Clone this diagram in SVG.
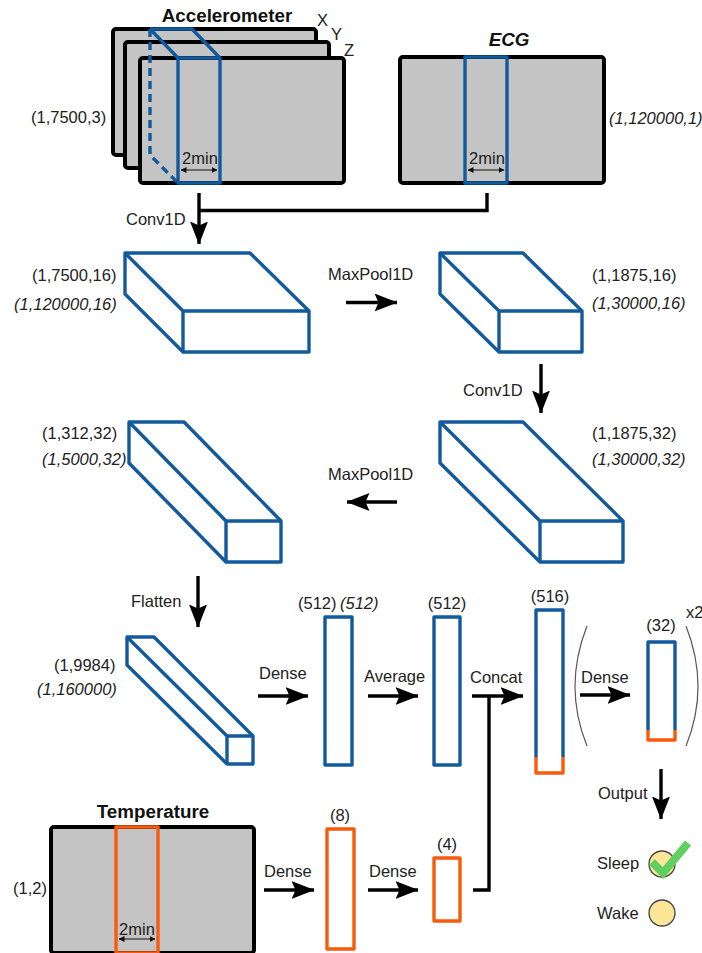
<svg xmlns="http://www.w3.org/2000/svg" width="702" height="953" viewBox="0 0 702 953">
<defs>
<marker id="ah" viewBox="0 0 23 18" refX="22.5" refY="9" markerWidth="23" markerHeight="18" markerUnits="userSpaceOnUse" orient="auto"><path d="M0,0 L23,9 L0,18 L4,9 Z" fill="#000"/></marker>
<marker id="as" viewBox="0 0 6 6" refX="5.5" refY="3" markerWidth="6" markerHeight="6" markerUnits="userSpaceOnUse" orient="auto-start-reverse"><path d="M0,0 L6,3 L0,6 Z" fill="#111"/></marker>
</defs>
<style>
text{font-family:"Liberation Sans",Arial,sans-serif;font-size:16.5px;fill:#222}
.i{font-style:italic}
.b{font-weight:bold;font-size:18.8px;fill:#111}
.m{text-anchor:middle}
.g{fill:#c4c4c4;stroke:#000;stroke-width:4;stroke-linejoin:round}
.bl{fill:none;stroke:#125a9c;stroke-width:3.4;stroke-linejoin:round}
.wb{fill:#fff;stroke:#125a9c;stroke-width:3.4;stroke-linejoin:round}
.ol{fill:none;stroke:#f85a0e;stroke-width:3.4;stroke-linejoin:round}
.or{fill:#fff;stroke:#f85a0e;stroke-width:3.4;stroke-linejoin:round}
.c{fill:none;stroke:#000;stroke-width:3.4}
.d{fill:none;stroke:#111;stroke-width:1;marker-start:url(#as);marker-end:url(#as)}
.p{fill:none;stroke:#555;stroke-width:1.2}
.y{fill:#fbe596;stroke:#444;stroke-width:1.3}
</style>
<g id="accelerometer">
<rect class="g" x="113" y="29" width="203" height="126" rx="3"/>
<rect class="g" x="125" y="42" width="204" height="126" rx="3"/>
<rect class="g" x="140" y="58" width="204" height="125" rx="3"/>
<path class="bl" d="M150,29H192L220,58M150,29L178,58"/>
<path class="bl" d="M150,29V155L178,183" stroke-dasharray="8 5"/>
<rect class="bl" x="178" y="58" width="42" height="125"/>
<path class="d" d="M181,170H217"/>
<text class="m" x="200" y="164">2min</text>
<text class="b m" x="227" y="22">Accelerometer</text>
<text x="317" y="26">X</text><text x="331" y="40">Y</text><text x="344" y="56">Z</text>
<text x="31" y="123">(1,7500,3)</text>
</g>
<g id="ecg">
<rect class="g" x="400" y="57" width="204" height="126" rx="3"/>
<rect class="bl" x="465" y="57" width="42" height="126"/>
<path class="d" d="M468,170H504"/>
<text class="m" x="487" y="164">2min</text>
<text class="b i m" x="509" y="46">ECG</text>
<text class="i" x="609" y="124">(1,120000,1)</text>
</g>
<g id="conv1">
<path class="wb" d="M125,253H250L309,311V352H183L125,294Z"/>
<path class="bl" d="M125,253L183,311H309M183,311V352"/>
<text x="32" y="281">(1,7500,16)</text>
<text class="i" x="14" y="310">(1,120000,16)</text>
</g>
<g id="pool1">
<path class="wb" d="M440,253H523L582,311V352H499L440,294Z"/>
<path class="bl" d="M440,253L499,311H582M499,311V352"/>
<text x="592" y="281">(1,1875,16)</text>
<text class="i" x="592" y="309">(1,30000,16)</text>
</g>
<g id="conv2">
<path class="wb" d="M440,422H523L623,521V562H540L440,463Z"/>
<path class="bl" d="M440,422L540,521H623M540,521V562"/>
<text x="592" y="439">(1,1875,32)</text>
<text class="i" x="592" y="465">(1,30000,32)</text>
</g>
<g id="pool2">
<path class="wb" d="M129,422H184L281,521V562H226L129,463Z"/>
<path class="bl" d="M129,422L226,521H281M226,521V562"/>
<text x="42" y="439">(1,312,32)</text>
<text class="i" x="42" y="465">(1,5000,32)</text>
</g>
<g id="flatten">
<path class="wb" d="M127,637H154L253,736V764H227L127,665Z"/>
<path class="bl" d="M127,637L227,736H253M227,736V764"/>
<text x="54" y="671">(1,9984)</text>
<text class="i" x="37" y="695">(1,160000)</text>
</g>
<g id="dense1"><rect class="wb" x="325" y="617" width="27" height="148"/>
<text x="298" y="609">(512)</text><text class="i" x="340" y="609">(512)</text></g>
<g id="average"><rect class="wb" x="434" y="617" width="26" height="148"/>
<text class="m" x="447" y="609">(512)</text></g>
<g id="concat">
<path class="ol" d="M536,757V773H563V757"/>
<path class="bl" d="M536,757V610H563V757"/>
<text class="m" x="550" y="602">(516)</text></g>
<g id="dense2">
<path class="ol" d="M648,730V740H675V730"/>
<path class="bl" d="M648,730V642H675V730"/>
<text class="m" x="661" y="631">(32)</text>
<path class="p" d="M587,626Q563,687 587,746"/>
<path class="p" d="M686,626Q710,687 686,746"/>
<text x="686" y="618">x2</text></g>
<g id="temperature">
<rect class="g" x="51" y="827" width="203" height="126" rx="3"/>
<rect class="ol" x="116" y="827" width="42" height="126"/>
<path class="d" d="M119,939H155"/>
<text class="m" x="137" y="935">2min</text>
<text class="b m" x="153" y="818">Temperature</text>
<text x="13" y="894">(1,2)</text>
</g>
<g id="dense3"><rect class="or" x="327" y="829" width="27" height="120"/><text class="m" x="340" y="821">(8)</text></g>
<g id="dense4"><rect class="or" x="434" y="858" width="26" height="63"/><text class="m" x="447" y="850">(4)</text></g>
<g id="sleep">
<circle class="y" cx="662" cy="864" r="13"/>
<path d="M652,862L663,873L688,843" fill="none" stroke="#5fcf5f" stroke-width="8"/>
<text x="597" y="869">Sleep</text></g>
<g id="wake">
<circle class="y" cx="662" cy="913" r="13"/>
<text x="597" y="919">Wake</text></g>
<g id="connectors">
<path class="c" d="M487,193V210.500H199"/>
<path class="c" d="M199,193V244" marker-end="url(#ah)"/>
<path class="c" d="M346,302.500H397" marker-end="url(#ah)"/>
<path class="c" d="M541,364V413" marker-end="url(#ah)"/>
<path class="c" d="M397,502H347" marker-end="url(#ah)"/>
<path class="c" d="M198,576V627" marker-end="url(#ah)"/>
<path class="c" d="M258,696H308" marker-end="url(#ah)"/>
<path class="c" d="M368,696H418" marker-end="url(#ah)"/>
<path class="c" d="M473,890H489V696"/>
<path class="c" d="M472,696H523" marker-end="url(#ah)"/>
<path class="c" d="M580,695H630" marker-end="url(#ah)"/>
<path class="c" d="M661,769V819" marker-end="url(#ah)"/>
<path class="c" d="M264,890H314" marker-end="url(#ah)"/>
<path class="c" d="M368,890H418" marker-end="url(#ah)"/>
</g>
<g id="labels">
<text x="126" y="225">Conv1D</text>
<text x="328" y="280">MaxPool1D</text>
<text x="463" y="396">Conv1D</text>
<text x="328" y="480">MaxPool1D</text>
<text x="131" y="607">Flatten</text>
<text x="259" y="679">Dense</text>
<text x="364" y="682">Average</text>
<text x="470" y="683">Concat</text>
<text x="581" y="683">Dense</text>
<text x="598" y="799">Output</text>
<text x="264" y="877">Dense</text>
<text x="369" y="877">Dense</text>
</g>
</svg>
